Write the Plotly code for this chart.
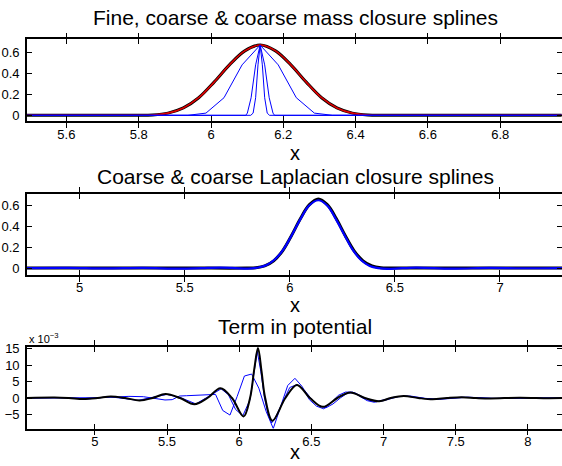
import plotly.graph_objects as go

W, H = 562, 466

# ---------------- Panel 1: fine, coarse & coarse mass closure splines ----------------
p1_smooth_x = [5.49, 5.70, 5.796, 5.8385, 5.881, 5.9235, 5.966, 6.0085, 6.051, 6.0935, 6.136,
               6.1785, 6.221, 6.2635, 6.306, 6.3485, 6.391, 6.4335, 6.476, 6.60, 6.97]
p1_smooth_y = [0, 0, 0, 0.003, 0.021, 0.070, 0.167, 0.315, 0.479, 0.612, 0.667,
               0.612, 0.479, 0.315, 0.167, 0.070, 0.021, 0.003, 0, 0, 0]

p1_wide_x = [5.49, 5.936, 5.986, 6.036, 6.086, 6.136, 6.186, 6.236, 6.286, 6.336, 6.97]
p1_wide_y = [0, 0, 0.021, 0.167, 0.479, 0.667, 0.479, 0.167, 0.021, 0, 0]

p1_mid_x = [5.49, 6.096, 6.1005, 6.111, 6.1235, 6.136, 6.1485, 6.161, 6.1715, 6.176, 6.97]
p1_mid_y = [0, 0, 0.021, 0.167, 0.479, 0.667, 0.479, 0.167, 0.021, 0, 0]

p1_narrow_x = [5.49, 6.110, 6.1165, 6.1235, 6.130, 6.136, 6.142, 6.1485, 6.1555, 6.162, 6.97]
p1_narrow_y = [0, 0, 0.021, 0.167, 0.479, 0.667, 0.479, 0.167, 0.021, 0, 0]

# ---------------- Panel 2: coarse & coarse Laplacian closure splines ----------------
p2_black_x = [4.75, 5.5, 5.796, 5.8385, 5.881, 5.9235, 5.966, 6.0085, 6.051, 6.0935, 6.136,
              6.1785, 6.221, 6.2635, 6.306, 6.3485, 6.391, 6.4335, 6.476, 6.8, 7.30]
p2_black_y = [0, 0, 0, 0.003, 0.021, 0.070, 0.167, 0.315, 0.479, 0.612, 0.667,
              0.612, 0.479, 0.315, 0.167, 0.070, 0.021, 0.003, 0, 0, 0]

p2_blue_x = [4.75, 4.95, 5.12, 5.30, 5.48, 5.58, 5.67, 5.74, 5.80, 5.85, 5.89, 5.93, 5.97,
             6.01, 6.05, 6.09, 6.136, 6.18, 6.22, 6.26, 6.30, 6.34, 6.38, 6.42, 6.48,
             6.60, 6.77, 6.95, 7.10, 7.30]
p2_blue_y = [0, 0.002, -0.004, 0.001, -0.006, 0.0, 0.005, 0.0, -0.006, 0.005, 0.030, 0.085,
             0.180, 0.320, 0.470, 0.600, 0.655, 0.600, 0.470, 0.320, 0.175, 0.075, 0.020,
             0.000, -0.007, 0.005, -0.006, 0.002, -0.002, 0]

# ---------------- Panel 3: term in potential (units of 1e-3) ----------------
p3_black_x = [4.53, 4.72, 4.82, 4.92, 5.02, 5.11, 5.21, 5.31, 5.40, 5.49, 5.59, 5.69, 5.78,
              5.87, 5.95, 6.03, 6.075, 6.105, 6.13, 6.155, 6.18, 6.23, 6.32, 6.40, 6.49,
              6.58, 6.68, 6.77, 6.87, 6.97, 7.05, 7.14, 7.24, 7.34, 7.44, 7.54, 7.64,
              7.74, 7.94, 8.14, 8.24]
p3_black_y = [0, 0.15, 0, -0.3, 0, 0.45, 0, -0.75, 0, 1.2, 0, -1.9, 0,
              3.0, 0, -5.6, 0, 9.0, 15.2, 8.0, 0, -6.9, 0, 4.0, 0,
              -2.7, 0, 1.7, 0, -1.0, 0, 0.6, 0, -0.4, 0, 0.25, 0,
              -0.15, 0.1, -0.05, 0]

p3_blueA_x = [4.53, 4.836, 5.036, 5.136, 5.236, 5.336, 5.436, 5.486, 5.536, 5.586, 5.636,
              5.736, 5.836, 5.886, 5.936, 5.986, 6.036, 6.086, 6.136, 6.186, 6.236, 6.286,
              6.336, 6.386, 6.436, 6.486, 6.536, 6.586, 6.636, 6.686, 6.736, 6.786, 6.836,
              6.886, 6.936, 6.986, 7.086, 7.186, 7.286, 7.386, 7.586, 7.786, 8.24]
p3_blueA_y = [0, 0, 0.1, 0.3, 0.5, 0.4, -0.4, -0.6, -0.5, 0.6, 0.7,
              0.9, 1.1, -3.8, -5.2, 0.5, 6.7, 7.3, 3.0, -4.0, -9.3, -2.7,
              3.8, 6.0, 3.5, -0.5, -2.5, -3.3, -1.5, 0.8, 1.8, 1.8, 0.5,
              -0.8, -1.3, -0.8, 0.4, 0.6, -0.1, -0.4, 0.25, -0.15, 0]

p3_blueB_x = [4.53, 4.75, 4.95, 5.10, 5.30, 5.50, 5.60, 5.70, 5.80, 5.875, 5.925, 5.975,
              6.025, 6.075, 6.10, 6.125, 6.15, 6.175, 6.20, 6.225, 6.25, 6.30, 6.35, 6.40,
              6.45, 6.50, 6.55, 6.60, 6.65, 6.70, 6.75, 6.80, 6.85, 6.90, 6.95, 7.00,
              7.10, 7.15, 7.25, 7.35, 7.45, 7.55, 7.75, 7.95, 8.24]
p3_blueB_y = [0, 0.1, -0.3, 0.4, -0.7, 1.1, 0, -1.8, 0.8, 2.8, 1.0, -3.5,
              -5.4, -0.5, 7.0, 14.2, 8.0, 0.0, -5.0, -7.6, -6.0, -1.5, 3.2, 4.1,
              2.5, -0.3, -2.3, -3.0, -1.8, 0.0, 1.5, 1.6, 0.5, -0.7, -1.1, -0.8,
              0.4, 0.6, 0.0, -0.4, 0.0, 0.25, -0.15, 0.1, 0]

titles = ["Fine, coarse & coarse mass closure splines",
          "Coarse & coarse Laplacian closure splines",
          "Term in potential"]
x_ranges = [[5.491, 6.971], [4.75, 7.295], [4.53, 8.236]]
y_ranges = [[-0.056, 0.72], [-0.066, 0.714], [-9.3, 15.6]]
x_dticks = [0.2, 0.5, 0.5]
x_tick0 = [5.6, 5.0, 5.0]
y_ticks = [[0, 0.2, 0.4, 0.6], [0, 0.2, 0.4, 0.6], [-5, 0, 5, 10, 15]]

BLUE = "#0000ff"
FONT = "Liberation Sans, Arial, sans-serif"

fig = go.Figure()

def add(x, y, axis, color, width, shape="linear"):
    fig.add_trace(go.Scatter(x=x, y=y, mode="lines", xaxis="x" + axis, yaxis="y" + axis,
                             line=dict(color=color, width=width, shape=shape,
                                       smoothing=1.0 if shape == "spline" else None),
                             showlegend=False, hoverinfo="skip"))

# panel 1
add(p1_smooth_x, p1_smooth_y, "", "black", 3.0, "spline")
add(p1_smooth_x, p1_smooth_y, "", "#dd0000", 1.6, "spline")
add(p1_wide_x, p1_wide_y, "", BLUE, 1)
add(p1_mid_x, p1_mid_y, "", BLUE, 1)
add(p1_narrow_x, p1_narrow_y, "", BLUE, 1)
# panel 2
add(p2_black_x, p2_black_y, "2", "black", 3.0, "spline")
add(p2_blue_x, p2_blue_y, "2", BLUE, 2.2, "spline")
# panel 3
add(p3_blueA_x, p3_blueA_y, "3", BLUE, 1)
add(p3_blueB_x, p3_blueB_y, "3", BLUE, 1)
add(p3_black_x, p3_black_y, "3", "black", 2, "spline")

# plot-area pixel boxes (top, bottom)
boxes = [(35, 118), (192, 274), (347, 430)]
left_px = 27
xd = [left_px / W, 1.0]

layout = dict(width=W, height=H, margin=dict(l=0, r=0, t=0, b=0),
              paper_bgcolor="white", plot_bgcolor="white",
              font=dict(family=FONT, size=13, color="black"))

axis_names = ["", "2", "3"]
for i, (top, bot) in enumerate(boxes):
    yd = [1 - bot / H, 1 - top / H]
    n = axis_names[i]
    xa = "xaxis" + n
    ya = "yaxis" + n
    layout[xa] = dict(domain=xd, range=x_ranges[i], anchor="y" + n,
                      tick0=x_tick0[i], dtick=x_dticks[i], ticks="inside", ticklen=5,
                      tickcolor="black", tickwidth=1, showline=True, linecolor="black",
                      linewidth=1.6, mirror="allticks", showgrid=False, zeroline=False,
                      tickfont=dict(size=13), ticklabelstandoff=0)
    layout[ya] = dict(domain=yd, range=y_ranges[i], anchor="x" + n,
                      tickvals=y_ticks[i], ticks="inside", ticklen=5,
                      tickcolor="black", tickwidth=1, showline=True, linecolor="black",
                      linewidth=1.6, showgrid=False, zeroline=False,
                      tickfont=dict(size=13), ticklabelstandoff=3)
    # right-side tick marks (border itself lies off the picture)
    rn = str(4 + i)
    layout["yaxis" + rn] = dict(overlaying="y" + n, side="right", range=y_ranges[i],
                                anchor="x" + n,
                                tickvals=y_ticks[i], ticks="inside", ticklen=5,
                                tickcolor="black", tickwidth=1, showline=False,
                                showticklabels=False, showgrid=False, zeroline=False)
    fig.add_trace(go.Scatter(x=[x_ranges[i][0]], y=[y_ranges[i][0]], mode="markers",
                             marker=dict(opacity=0), xaxis="x" + n, yaxis="y" + rn,
                             showlegend=False, hoverinfo="skip"))

fig.update_layout(**layout)

cx = (left_px + 563) / 2 / W
title_y = [13, 174, 326]
xlab_y = [150, 305, 454]
for i in range(3):
    fig.add_annotation(text=titles[i], x=cx, y=1 - title_y[i] / H, xref="paper", yref="paper",
                       showarrow=False, xanchor="center", yanchor="middle",
                       font=dict(size=21, family=FONT, color="black"))
    fig.add_annotation(text="x", x=cx, y=1 - xlab_y[i] / H, xref="paper", yref="paper",
                       showarrow=False, xanchor="center", yanchor="middle",
                       font=dict(size=20, family=FONT, color="black"))

fig.add_annotation(text="x 10<sup>−3</sup>", x=27 / W, y=1 - 338 / H, xref="paper",
                   yref="paper", showarrow=False, xanchor="left", yanchor="middle",
                   font=dict(size=11, family=FONT, color="black"))

fig.write_html("out.html")
